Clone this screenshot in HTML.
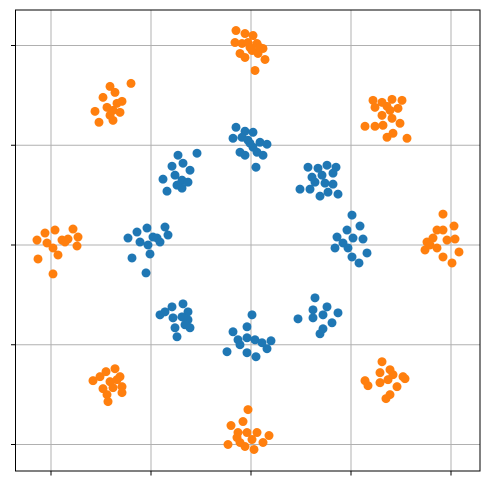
<!DOCTYPE html>
<html><head><meta charset="utf-8"><style>
html,body{margin:0;padding:0;background:#fff;}
svg{display:block;font-family:"Liberation Sans",sans-serif;}
</style></head><body>
<svg id="chart" width="489" height="486" viewBox="0 0 489 486" xmlns="http://www.w3.org/2000/svg">
<rect x="0" y="0" width="489" height="486" fill="#fff"/>
<g id="grid"></g>
<g id="pts"></g>
<rect x="15.5" y="10" width="464.5" height="461" fill="none" stroke="#000" stroke-width="1"/>
<g id="ticks"></g>
</svg>
<script>
const xTicks = [-2, -1, 0, 1, 2];
const yTicks = [-2, -1, 0, 1, 2];
const blueX = [-0.15,-0.06,0.02,-0.18,-0.09,-0.03,0.09,0.16,-0.11,-0.06,0.02,0.12,0.05,-0.01,0.06,
 -0.73,-0.54,-0.79,-0.68,-0.61,-0.88,-0.76,-0.69,-0.63,-0.84,-0.69,-0.74,
 0.57,0.67,0.76,0.85,0.61,0.71,0.82,0.64,0.74,0.82,0.49,0.59,0.69,0.87,0.77,
 -1.23,-1.14,-1.04,-0.86,-0.83,-1.11,-1.03,-0.94,-0.91,-1.01,-1.19,-1.05,-0.98,
 1.01,0.96,1.09,0.86,0.84,0.92,1.02,1.12,1.01,1.08,1.16,0.97,
 -0.91,-0.79,-0.68,-0.63,-0.78,-0.69,-0.63,-0.76,-0.66,-0.61,-0.74,-0.86,
 0.01,-0.04,-0.18,-0.13,-0.04,0.04,0.20,-0.24,-0.11,-0.04,0.05,0.16,0.11,
 0.64,0.62,0.76,0.87,0.47,0.62,0.72,0.81,0.69,0.72];
const blueY = [1.18,1.14,1.13,1.07,1.08,1.05,1.03,1.01,0.93,0.90,0.98,0.90,0.78,1.02,0.93,
 0.90,0.92,0.79,0.82,0.75,0.66,0.70,0.65,0.63,0.54,0.57,0.60,
 0.78,0.77,0.80,0.78,0.68,0.70,0.72,0.63,0.62,0.61,0.56,0.56,0.49,0.51,0.53,
 0.07,0.13,0.17,0.18,0.10,0.03,0.00,0.07,0.03,-0.09,-0.13,-0.28,0.08,
 0.30,0.15,0.19,0.08,-0.03,0.02,0.07,0.06,-0.12,-0.18,-0.08,-0.03,
 -0.70,-0.62,-0.59,-0.67,-0.73,-0.72,-0.75,-0.83,-0.80,-0.83,-0.92,-0.67,
 -0.70,-0.82,-0.87,-0.95,-0.93,-0.95,-0.96,-1.07,-1.00,-1.08,-1.12,-1.04,-0.98,
 -0.53,-0.65,-0.62,-0.68,-0.74,-0.73,-0.70,-0.78,-0.89,-0.84];
const orangeX = [-0.15,-0.06,0.02,-0.16,-0.09,-0.03,0.06,0.12,-0.11,-0.06,0.01,0.07,0.14,0.04,-0.01,0.09,
 -1.41,-1.36,-1.20,-1.48,-1.29,-1.56,-1.44,-1.38,-1.31,-1.52,-1.38,-1.41,-1.34,
 1.22,1.31,1.41,1.51,1.24,1.36,1.47,1.31,1.41,1.49,1.14,1.24,1.32,1.36,1.42,1.56,1.39,
 -2.14,-2.06,-1.96,-1.78,-1.73,-2.04,-1.98,-1.89,-1.83,-1.74,-1.93,-2.13,-1.98,-1.86,
 1.92,1.86,1.92,2.03,1.76,1.82,1.96,2.04,1.74,1.86,1.92,2.01,2.08,1.79,
 -0.03,-0.08,-0.20,-0.13,-0.04,0.06,0.18,-0.23,-0.14,-0.06,0.03,0.12,0.01,-0.11,
 -1.58,-1.51,-1.45,-1.36,-1.31,-1.41,-1.29,-1.48,-1.38,-1.44,-1.43,-1.29,-1.34,
 1.31,1.29,1.39,1.52,1.14,1.17,1.29,1.37,1.46,1.54,1.39,1.35,1.42];
const orangeY = [2.15,2.12,2.10,2.03,2.02,2.03,2.02,1.97,1.92,1.88,1.95,1.92,1.86,1.75,1.98,1.98,
 1.59,1.53,1.62,1.48,1.44,1.34,1.38,1.35,1.33,1.23,1.25,1.30,1.42,
 1.45,1.43,1.46,1.45,1.38,1.39,1.37,1.30,1.27,1.22,1.19,1.19,1.20,1.08,1.12,1.07,1.35,
 0.05,0.12,0.15,0.16,0.08,0.02,-0.03,0.05,0.06,-0.01,-0.10,-0.14,-0.29,0.03,
 0.31,0.15,0.15,0.19,0.03,0.07,0.05,0.06,-0.05,-0.03,-0.12,-0.18,-0.07,0.00,
 -1.65,-1.77,-1.81,-1.88,-1.88,-1.88,-1.91,-2.00,-1.93,-2.02,-2.05,-1.98,-1.95,-1.98,
 -1.36,-1.32,-1.27,-1.24,-1.32,-1.37,-1.42,-1.44,-1.43,-1.50,-1.57,-1.48,-1.35,
 -1.17,-1.28,-1.25,-1.32,-1.36,-1.41,-1.38,-1.35,-1.42,-1.34,-1.50,-1.54,-1.30];

const NS = "http://www.w3.org/2000/svg";
function sx(v){ return 251 + 100 * v; }
function sy(v){ return 245 - 99.75 * v; }
const grid = document.getElementById('grid');
const ticks = document.getElementById('ticks');
const pts = document.getElementById('pts');
function line(parent, x1, y1, x2, y2, col, w){
  const l = document.createElementNS(NS, 'line');
  l.setAttribute('x1', x1); l.setAttribute('y1', y1);
  l.setAttribute('x2', x2); l.setAttribute('y2', y2);
  l.setAttribute('stroke', col); l.setAttribute('stroke-width', w);
  parent.appendChild(l);
  return l;
}
xTicks.forEach(t => {
  const g = line(grid, sx(t), 10, sx(t), 471, '#b0b0b0', 1);
  
  
  const k = line(ticks, sx(t), 471, sx(t), 475.5, '#000', 1);
  
  
});
yTicks.forEach(t => {
  const g = line(grid, 15.5, sy(t), 480, sy(t), '#b0b0b0', 1);
  
  
  const k = line(ticks, 11, sy(t), 15.5, sy(t), '#000', 1);
  
  
});
function drawSeries(xs, ys, col, name){
  for (let i = 0; i < xs.length; i++){
    const c = document.createElementNS(NS, 'circle');
    c.setAttribute('cx', sx(xs[i]));
    c.setAttribute('cy', sy(ys[i]));
    c.setAttribute('r', 4.5);
    c.setAttribute('fill', col);
    
    
    pts.appendChild(c);
  }
}
drawSeries(blueX, blueY, '#1f77b4', 'blue-point');
drawSeries(orangeX, orangeY, '#ff7f0e', 'orange-point');
</script>
</body></html>
